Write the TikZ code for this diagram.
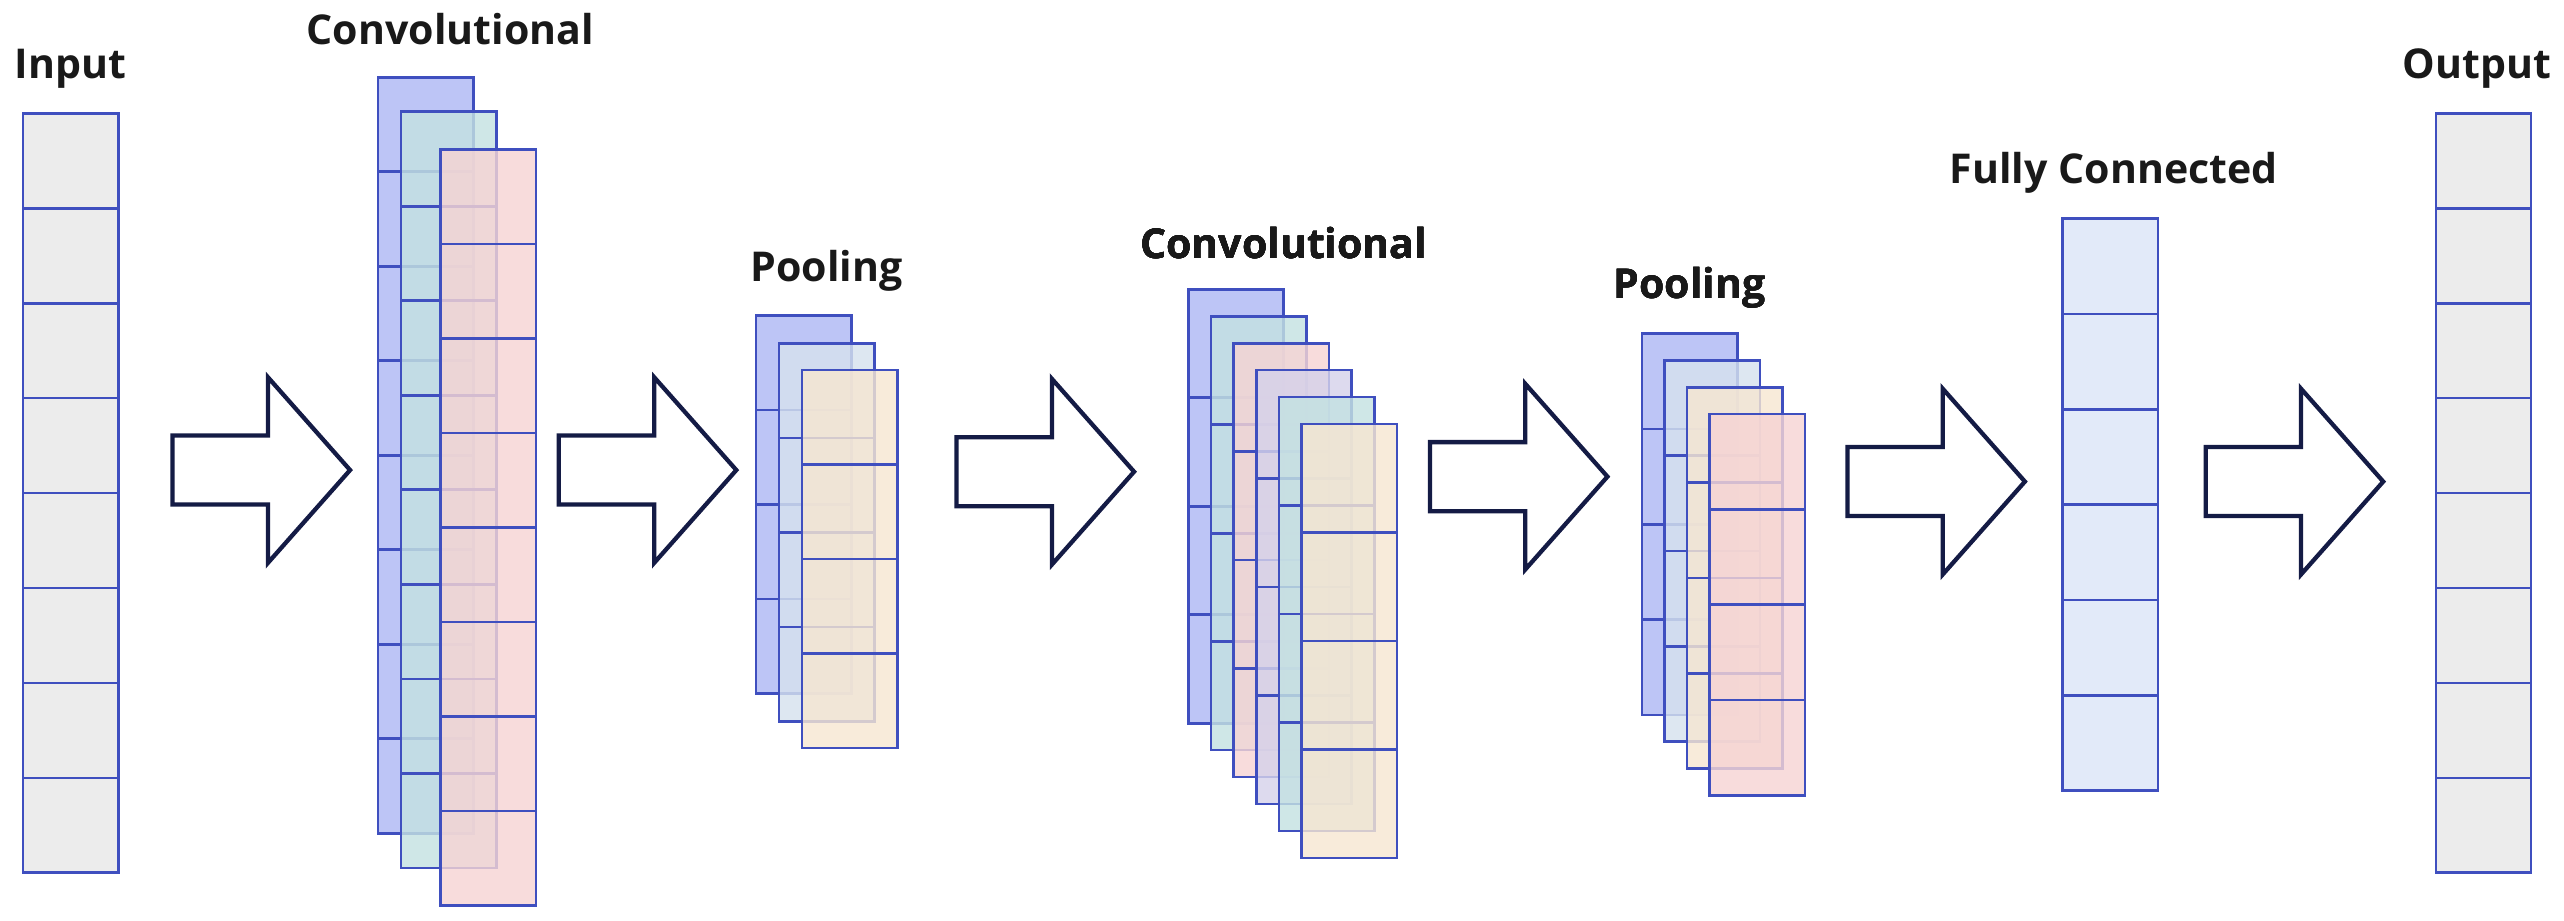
\documentclass[tikz,border=0pt]{standalone}
\usepackage{fontspec}
\setmainfont{Open Sans}
\usetikzlibrary{positioning}
\definecolor{edgeblue}{HTML}{3F4FBF}
\definecolor{navy}{HTML}{141B45}
\definecolor{ingray}{HTML}{E8E8E8}
\definecolor{mapblue}{HTML}{AEB8F4}
\definecolor{mapteal}{HTML}{C4E2E2}
\definecolor{mappink}{HTML}{F6D4D4}
\definecolor{mapbeige}{HTML}{F6E6D2}
\definecolor{maplav}{HTML}{D6D2EA}
\definecolor{mapgrey}{HTML}{D6E2EE}
\definecolor{fcblue}{HTML}{DCE5F8}
\tikzset{
  cell/.style={draw=edgeblue, line width=1.6pt},
  layername/.style={font=\fontsize{25}{30}\selectfont\bfseries, text=black!90},
  flowarrow/.pic={\draw[navy, fill=white, line width=2.6pt, line join=miter]
    (0,-21) -- (58,-21) -- (58,-56.5) -- (108,0) -- (58,56.5) -- (58,21) -- (0,21) -- cycle;}
}
% one feature map: x, y, cells, cell height, fill
\newcommand{\fmap}[5]{%
  \fill[#5, fill opacity=0.82] (#1,#2) rectangle ++(58,{#3*#4});
  \foreach \k in {1,...,#3}
    \draw[cell] (#1,{#2+(\k-1)*#4}) rectangle ++(58,#4);
}
\begin{document}
\begin{tikzpicture}[x=1pt,y=-1pt]
  \useasboundingbox (0,0) rectangle (1560,560);

  % input and output
  \fmap{14}{69}{8}{57.75}{ingray}
  \fmap{1482}{69}{8}{57.75}{ingray}
  \node[layername] (in) at (43,42) {Input};
  \node[layername] (out) at (1507,42) {Output};

  % first convolution
  \fmap{230}{47}{8}{57.5}{mapblue}
  \fmap{244}{68}{8}{57.5}{mapteal}
  \fmap{268}{91}{8}{57.5}{mappink}
  \node[layername] (conva) at (274,18) {Convolutional};

  % first pooling
  \fmap{460}{192}{4}{57.5}{mapblue}
  \fmap{474}{209}{4}{57.5}{mapgrey}
  \fmap{488}{225}{4}{57.5}{mapbeige}
  \node[layername] (poola) at (503,165) {Pooling};

  % second convolution
  \foreach \c [count=\i from 0] in {mapblue,mapteal,mappink,maplav,mapteal,mapbeige}
    \fmap{723+13.8*\i}{176+16.4*\i}{4}{66}{\c}
  \node[layername] (convb) at (781,148) {Convolutional};

  % second pooling
  \foreach \c [count=\i from 0] in {mapblue,mapgrey,mapbeige,mappink}
    \fmap{999+13.7*\i}{203+16.3*\i}{4}{58}{\c}
  \node[layername] (poolb) at (1028,175) {Pooling};

  % fully connected
  \fmap{1255}{133}{6}{58}{fcblue}
  \node[layername] (fc) at (1286,105) {Fully Connected};

  % flow arrows
  \pic at (105,286) {flowarrow};
  \pic at (340,286) {flowarrow};
  \pic at (582,287) {flowarrow};
  \pic at (870,290) {flowarrow};
  \pic at (1124,293) {flowarrow};
  \pic at (1342,293) {flowarrow};
\end{tikzpicture}
\end{document}
